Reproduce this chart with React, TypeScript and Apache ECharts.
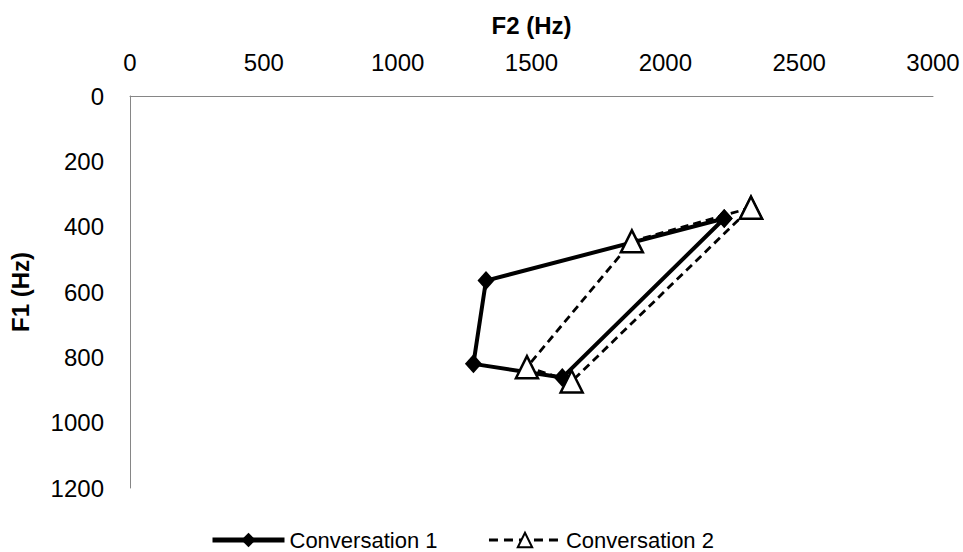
import React, { useEffect, useRef } from "react";
import * as echarts from "echarts";

// Formant pairs [F2, F1] in Hz, each vowel loop closed on its first point
const conversation1: [number, number][] = [
  [2220, 375],
  [1330, 565],
  [1283, 820],
  [1615, 862],
  [2220, 375],
];
const conversation2: [number, number][] = [
  [2320, 342],
  [1875, 445],
  [1483, 830],
  [1650, 874],
  [2320, 342],
];
const seriesNames = ["Conversation 1", "Conversation 2"];
const f2Range = [0, 3000];
const f1Range = [0, 1200];

const FONT = '"Liberation Sans", Arial, sans-serif';
const plain = (v: number) => String(v);

export default function App() {
  const ref = useRef<HTMLDivElement>(null);

  useEffect(() => {
    if (!ref.current) return;
    const chart = echarts.init(ref.current, undefined, { renderer: "svg" });
    chart.setOption({
      animation: false,
      backgroundColor: "#fff",
      textStyle: { fontFamily: FONT },
      grid: { left: 130, right: 30, top: 96, bottom: 64 },
      xAxis: {
        type: "value",
        position: "top",
        min: f2Range[0],
        max: f2Range[1],
        interval: 500,
        name: "F2 (Hz)",
        nameLocation: "middle",
        nameGap: 59,
        nameTextStyle: { fontSize: 24, fontWeight: "bold", color: "#000", fontFamily: FONT },
        axisLine: { show: true, lineStyle: { color: "#868686", width: 1 } },
        axisTick: { show: false },
        splitLine: { show: false },
        axisLabel: { fontSize: 24, color: "#000", margin: 22, fontFamily: FONT, formatter: plain },
      },
      yAxis: {
        type: "value",
        inverse: true,
        min: f1Range[0],
        max: f1Range[1],
        interval: 200,
        name: "F1 (Hz)",
        nameLocation: "middle",
        nameRotate: 90,
        nameGap: 98,
        nameTextStyle: { fontSize: 24, fontWeight: "bold", color: "#000", fontFamily: FONT },
        axisLine: { show: true, lineStyle: { color: "#868686", width: 1 } },
        axisTick: { show: false },
        splitLine: { show: false },
        axisLabel: { fontSize: 24, color: "#000", margin: 26, fontFamily: FONT, formatter: plain },
      },
      legend: {
        left: 210,
        top: 529,
        padding: 0,
        itemWidth: 72,
        itemHeight: 18,
        itemGap: 50,
        textStyle: { fontSize: 22, lineHeight: 22, color: "#000", fontFamily: FONT },
        data: [
          { name: seriesNames[0], lineStyle: { width: 5, color: "#000" } },
          { name: seriesNames[1], lineStyle: { width: 3, color: "#000", type: [9, 6] } },
        ],
      },
      series: [
        {
          name: seriesNames[0],
          type: "line",
          data: conversation1,
          symbol: "diamond",
          symbolSize: [17, 19],
          showAllSymbol: true,
          lineStyle: { color: "#000", width: 4, type: "solid" },
          itemStyle: { color: "#000", borderColor: "#000", borderWidth: 0 },
          z: 2,
        },
        {
          name: seriesNames[1],
          type: "line",
          data: conversation2,
          symbol: "triangle",
          symbolSize: 22,
          showAllSymbol: true,
          lineStyle: { color: "#000", width: 2.8, type: [8, 5] },
          itemStyle: { color: "#fff", borderColor: "#000", borderWidth: 2.5 },
          z: 3,
        },
      ],
    });
    return () => chart.dispose();
  }, []);

  return (
    <div
      ref={ref}
      style={{ position: "absolute", left: 0, top: 0, width: 963, height: 552 }}
    />
  );
}
